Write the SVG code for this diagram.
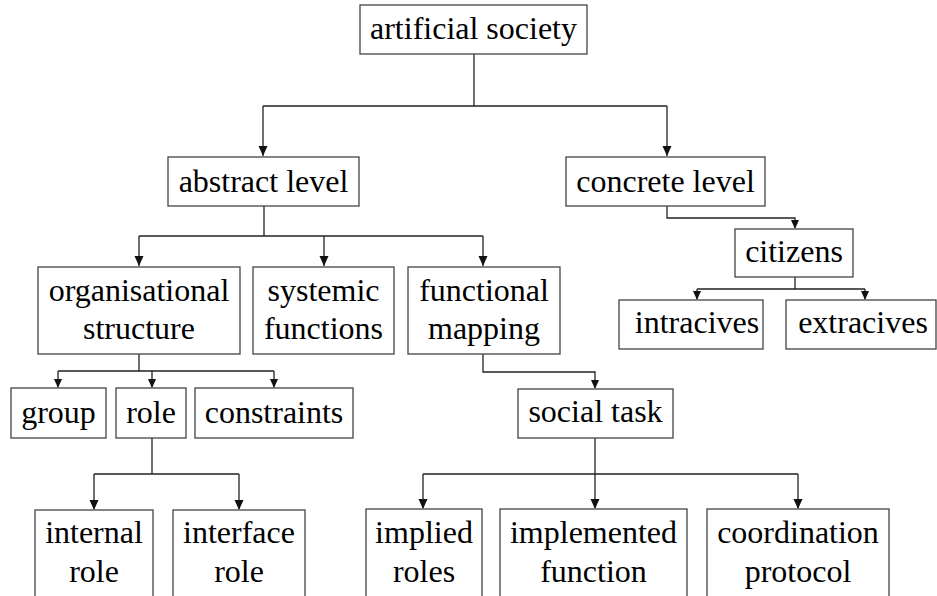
<svg xmlns="http://www.w3.org/2000/svg" width="937" height="596" viewBox="0 0 937 596">
<style>
.box{fill:#fff;stroke:#444;stroke-width:1.3}
.t{font-size:32px;fill:#000;text-anchor:middle}
.c{fill:none;stroke:#222;stroke-width:1.3}
</style>
<rect width="937" height="596" fill="#fff"/>
<g id="connectors">
<path class="c" d="M474 54 V106 M263 106 H667"/>
<path class="c" d="M263 106 V156"/>
<path class="c" d="M667 106 V156"/>
<path class="c" d="M264 206 V236 M139 236 H483"/>
<path class="c" d="M139 236 V266"/>
<path class="c" d="M324 236 V266"/>
<path class="c" d="M483 236 V266"/>
<path class="c" d="M667 206 V218 H795 V228"/>
<path class="c" d="M795 277 V289 M697 289 H865"/>
<path class="c" d="M697 289 V299"/>
<path class="c" d="M865 289 V299"/>
<path class="c" d="M139 354 V371 M58 371 H274"/>
<path class="c" d="M58 371 V387"/>
<path class="c" d="M152 371 V387"/>
<path class="c" d="M274 371 V387"/>
<path class="c" d="M152 438 V474 M94 474 H239"/>
<path class="c" d="M94 474 V509"/>
<path class="c" d="M239 474 V509"/>
<path class="c" d="M483 354 V372 H595 V388"/>
<path class="c" d="M595 438 V474 M423 474 H798"/>
<path class="c" d="M423 474 V508"/>
<path class="c" d="M595 474 V508"/>
<path class="c" d="M798 474 V508"/>
<g fill="#111">
<path d="M258.5 146 H267.5 L263 156 Z"/>
<path d="M662.5 146 H671.5 L667 156 Z"/>
<path d="M134.5 256 H143.5 L139 266 Z"/>
<path d="M319.5 256 H328.5 L324 266 Z"/>
<path d="M478.5 256 H487.5 L483 266 Z"/>
<path d="M791 220 H799 L795 229 Z"/>
<path d="M693 291 H701 L697 300 Z"/>
<path d="M861 291 H869 L865 300 Z"/>
<path d="M54 379 H62 L58 388 Z"/>
<path d="M148 379 H156 L152 388 Z"/>
<path d="M270 379 H278 L274 388 Z"/>
<path d="M89.5 500 H98.5 L94 510 Z"/>
<path d="M234.5 500 H243.5 L239 510 Z"/>
<path d="M591 380 H599 L595 389 Z"/>
<path d="M418.5 499 H427.5 L423 509 Z"/>
<path d="M590.5 499 H599.5 L595 509 Z"/>
<path d="M793.5 499 H802.5 L798 509 Z"/>
</g>
</g>
<g id="nodes" font-family="Liberation Serif, Times New Roman, Times, serif">
<g id="artificial-society"><rect class="box" x="360" y="5" width="227" height="49"/><text class="t" x="473.5" y="39">artificial society</text></g>
<g id="abstract-level"><rect class="box" x="168" y="157" width="191" height="49"/><text class="t" x="263.5" y="192">abstract level</text></g>
<g id="concrete-level"><rect class="box" x="566" y="157" width="199" height="49"/><text class="t" x="665.5" y="192">concrete level</text></g>
<g id="organisational-structure"><rect class="box" x="38" y="267" width="202" height="87"/><text class="t" x="139" y="301">organisational</text><text class="t" x="139" y="339">structure</text></g>
<g id="systemic-functions"><rect class="box" x="253" y="267" width="141" height="87"/><text class="t" x="323.5" y="301">systemic</text><text class="t" x="323.5" y="339">functions</text></g>
<g id="functional-mapping"><rect class="box" x="408" y="267" width="152" height="87"/><text class="t" x="484" y="301">functional</text><text class="t" x="484" y="339">mapping</text></g>
<g id="citizens"><rect class="box" x="735" y="229" width="118" height="48"/><text class="t" x="794" y="262">citizens</text></g>
<g id="intracives"><rect class="box" x="619" y="300" width="144" height="49"/><text class="t" x="697" y="333">intracives</text></g>
<g id="extracives"><rect class="box" x="786" y="300" width="150" height="49"/><text class="t" x="863" y="333">extracives</text></g>
<g id="group"><rect class="box" x="11" y="388" width="95" height="50"/><text class="t" x="58.5" y="423">group</text></g>
<g id="role"><rect class="box" x="116" y="388" width="70" height="50"/><text class="t" x="151" y="423">role</text></g>
<g id="constraints"><rect class="box" x="195" y="388" width="158" height="50"/><text class="t" x="274" y="423">constraints</text></g>
<g id="social-task"><rect class="box" x="518" y="389" width="155" height="49"/><text class="t" x="595.5" y="422">social task</text></g>
<g id="internal-role"><rect class="box" x="35" y="510" width="118" height="100"/><text class="t" x="94" y="543">internal</text><text class="t" x="94" y="582">role</text></g>
<g id="interface-role"><rect class="box" x="173" y="510" width="132" height="100"/><text class="t" x="239" y="543">interface</text><text class="t" x="239" y="582">role</text></g>
<g id="implied-roles"><rect class="box" x="366" y="509" width="116" height="100"/><text class="t" x="424" y="543">implied</text><text class="t" x="424" y="582">roles</text></g>
<g id="implemented-function"><rect class="box" x="500" y="509" width="187" height="100"/><text class="t" x="593.5" y="543">implemented</text><text class="t" x="593.5" y="582">function</text></g>
<g id="coordination-protocol"><rect class="box" x="707" y="509" width="182" height="100"/><text class="t" x="798" y="543">coordination</text><text class="t" x="798" y="582">protocol</text></g>
</g>
</svg>
